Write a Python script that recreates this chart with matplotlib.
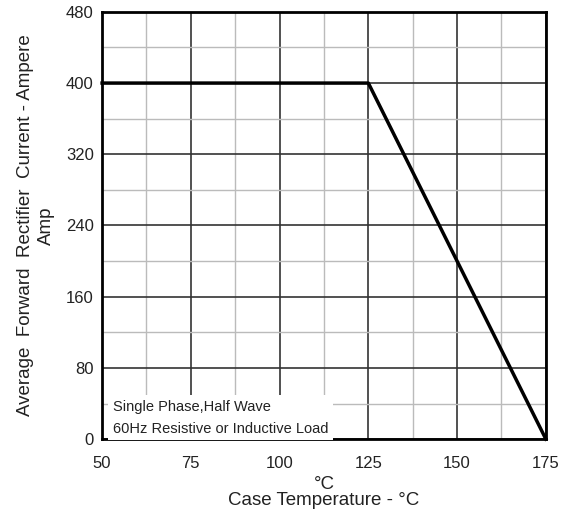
import matplotlib
matplotlib.use("Agg")
import matplotlib.pyplot as plt
import numpy as np

plt.rcParams['font.family'] = ['Liberation Sans', 'DejaVu Sans']

temp = [50, 125, 175]
current = [400, 400, 0]
xticks = [50, 75, 100, 125, 150, 175]
yticks = [0, 80, 160, 240, 320, 400, 480]

fig = plt.figure(figsize=(5.61, 5.16), dpi=100)
ax = fig.add_axes([0.182, 0.149, 0.791, 0.828])
ax.set_xlim(50, 175)
ax.set_ylim(0, 480)
ax.set_xticks(xticks)
ax.set_yticks(yticks)
ax.set_xticks(np.arange(62.5, 175, 25), minor=True)
ax.set_yticks(np.arange(40, 480, 80), minor=True)
ax.grid(which='major', color='#333333', linewidth=1.2, zorder=0)
ax.grid(which='minor', color='#bbbbbb', linewidth=1.0, zorder=0)
ax.tick_params(which='both', length=0, labelsize=12, colors='#222222')
ax.tick_params(axis='x', pad=12)
ax.tick_params(axis='y', pad=6)
for s in ax.spines.values():
    s.set_linewidth(2)
    s.set_color('black')

ax.plot(temp, current, color='black', linewidth=2.5, zorder=3, clip_on=False)

ax.text(53, 24, "Single Phase,Half Wave\n60Hz Resistive or Inductive Load",
        fontsize=10.5, color='#222222', va='center', ha='left', linespacing=1.75,
        zorder=4,
        bbox=dict(facecolor='white', edgecolor='none', boxstyle='square,pad=0.3'))

ax.set_xlabel("°C\nCase Temperature - °C", fontsize=13.5, color='#222222',
              linespacing=0.9, labelpad=4)
ax.set_ylabel("Average  Forward  Rectifier  Current - Ampere\nAmp", fontsize=13.5,
              color='#222222', linespacing=1.3, labelpad=8)

fig.savefig("out.png", dpi=100)
